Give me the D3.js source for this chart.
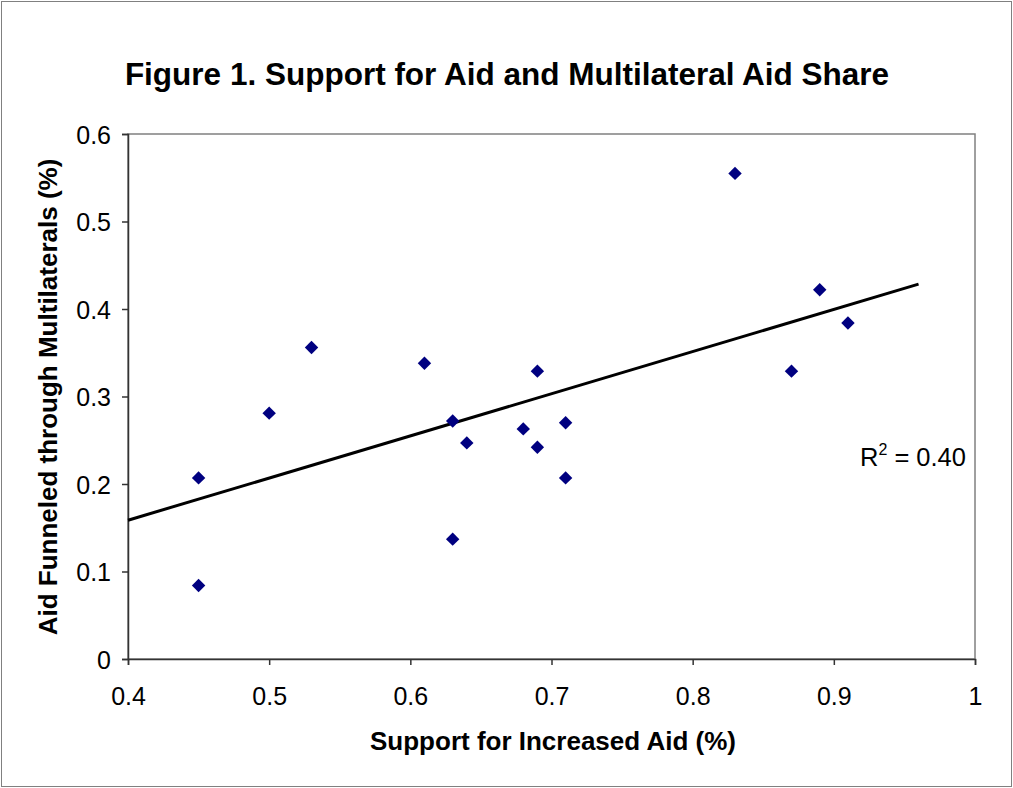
<!DOCTYPE html>
<html>
<head>
<meta charset="utf-8">
<script src="https://cdn.jsdelivr.net/npm/d3@7"></script>
<style>
    body { margin: 0; background: #fff; }
    text { font-family: "Liberation Sans", Arial, sans-serif; fill: #000; }
</style>
</head>
<body>
<div id="wrapper"></div>
<script>
const titleText = "Figure 1. Support for Aid and Multilateral Aid Share"
const xLabel = "Support for Increased Aid (%)"
const yLabel = "Aid Funneled through Multilaterals (%)"

const supportValues = [0.45, 0.45, 0.50, 0.53, 0.61, 0.63, 0.63, 0.64, 0.68, 0.69, 0.69, 0.71, 0.71, 0.83, 0.87, 0.89, 0.91]
const multilateralValues = [0.207, 0.084, 0.281, 0.356, 0.338, 0.272, 0.137, 0.247, 0.263, 0.329, 0.242, 0.270, 0.207, 0.555, 0.329, 0.422, 0.384]

const xTicks = [0.4, 0.5, 0.6, 0.7, 0.8, 0.9, 1]
const yTicks = [0, 0.1, 0.2, 0.3, 0.4, 0.5, 0.6]
const trendExtent = [0.4, 0.96]
const rSquaredText = "0.40"

function drawChart() {
    const dimensions = {
        width: 1013,
        height: 788,
        margin: { top: 134, right: 38, bottom: 129, left: 128 }
    }
    dimensions.boundedWidth = dimensions.width - dimensions.margin.left - dimensions.margin.right
    dimensions.boundedHeight = dimensions.height - dimensions.margin.top - dimensions.margin.bottom

    const points = supportValues.map((x, i) => ({ x, y: multilateralValues[i] }))

    const wrapper = d3.select("#wrapper")
        .append("svg")
        .attr("width", dimensions.width)
        .attr("height", dimensions.height)

    // outer chart border
    wrapper.append("rect")
        .attr("x", 1.5)
        .attr("y", 1.5)
        .attr("width", dimensions.width - 3)
        .attr("height", dimensions.height - 3)
        .attr("fill", "none")
        .attr("stroke", "#808080")
        .attr("stroke-width", 1)

    wrapper.append("text")
        .attr("x", 507)
        .attr("y", 85)
        .attr("text-anchor", "middle")
        .style("font-size", "31.5px")
        .style("font-weight", "bold")
        .text(titleText)

    const bounds = wrapper.append("g")
        .attr("transform", `translate(${dimensions.margin.left}, ${dimensions.margin.top})`)

    const xScale = d3.scaleLinear()
        .domain([0.4, 1])
        .range([0, dimensions.boundedWidth])

    const yScale = d3.scaleLinear()
        .domain([0, 0.6])
        .range([dimensions.boundedHeight, 0])

    // plot area border (top/right in grey)
    bounds.append("rect")
        .attr("width", dimensions.boundedWidth)
        .attr("height", dimensions.boundedHeight)
        .attr("fill", "none")
        .attr("stroke", "#808080")
        .attr("stroke-width", 1.5)

    const xAxis = bounds.append("g")
        .attr("transform", `translate(0, ${dimensions.boundedHeight})`)
        .call(d3.axisBottom(xScale).tickValues(xTicks).tickSize(6).tickPadding(22).tickFormat(d3.format("")))
    const yAxis = bounds.append("g")
        .call(d3.axisLeft(yScale).tickValues(yTicks).tickSize(6).tickPadding(11).tickFormat(d3.format("")))

    ;[xAxis, yAxis].forEach(axis => {
        axis.select(".domain").attr("stroke", "#333").attr("stroke-width", 1.5)
        axis.selectAll(".tick line").attr("stroke", "#333").attr("stroke-width", 1.5)
        axis.selectAll(".tick text")
            .style("font-size", "25px")
            .style("font-family", "'Liberation Sans', Arial, sans-serif")
            .attr("fill", "#000")
    })
    yAxis.selectAll(".tick text").attr("dy", "0.36em")

    // linear trend (least squares)
    const meanX = d3.mean(points, d => d.x)
    const meanY = d3.mean(points, d => d.y)
    const slope = d3.sum(points, d => (d.x - meanX) * (d.y - meanY)) / d3.sum(points, d => (d.x - meanX) ** 2)
    const intercept = meanY - slope * meanX
    const trendLine = d3.line()
        .x(d => xScale(d))
        .y(d => yScale(intercept + slope * d))

    bounds.append("path")
        .attr("d", trendLine(trendExtent))
        .attr("fill", "none")
        .attr("stroke", "#000")
        .attr("stroke-width", 3)

    const diamond = d3.symbol().type(d3.symbolSquare).size(90)
    bounds.selectAll(".point")
        .data(points)
        .join("path")
        .attr("class", "point")
        .attr("d", diamond)
        .attr("transform", d => `translate(${xScale(d.x)}, ${yScale(d.y)}) rotate(45)`)
        .attr("fill", "#000080")

    const rLabel = wrapper.append("text")
        .attr("x", 966)
        .attr("y", 466)
        .attr("text-anchor", "end")
        .style("font-size", "25.5px")
    rLabel.append("tspan").text("R")
    rLabel.append("tspan").attr("dy", -11).style("font-size", "16px").text("2")
    rLabel.append("tspan").attr("dy", 11).text(` = ${rSquaredText}`)

    wrapper.append("text")
        .attr("x", 553)
        .attr("y", 750)
        .attr("text-anchor", "middle")
        .style("font-size", "26px")
        .style("font-weight", "bold")
        .text(xLabel)

    wrapper.append("text")
        .attr("transform", `translate(57, 397) rotate(-90)`)
        .attr("text-anchor", "middle")
        .style("font-size", "26px")
        .style("font-weight", "bold")
        .text(yLabel)
}

drawChart()
</script>
</body>
</html>
